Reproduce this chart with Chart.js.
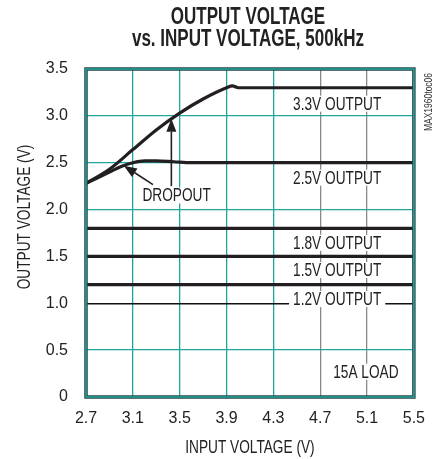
<!DOCTYPE html>
<html>
<head>
<meta charset="utf-8">
<script src="https://cdn.jsdelivr.net/npm/chart.js@4.4.1/dist/chart.umd.min.js"></script>
<style>
html,body{margin:0;padding:0;background:#fff;}
#c{display:block;}
</style>
</head>
<body>
<canvas id="c" width="437" height="459"></canvas>
<script>
// ---- data ----
const xTicks = [2.7, 3.1, 3.5, 3.9, 4.3, 4.7, 5.1, 5.5];
const yTicks = [0, 0.5, 1.0, 1.5, 2.0, 2.5, 3.0, 3.5];

const out33X = [2.7, 2.9, 3.1, 3.3, 3.5, 3.7, 3.9, 3.95, 4.0, 5.5];
const out33Y = [2.28, 2.43, 2.64, 2.85, 3.03, 3.18, 3.30, 3.32, 3.30, 3.30];

const out25X = [2.7, 2.9, 3.0, 3.1, 3.2, 3.3, 3.45, 3.6, 5.5];
const out25Y = [2.28, 2.40, 2.46, 2.50, 2.52, 2.52, 2.51, 2.50, 2.50];

const out18X = [2.7, 5.5];
const out18Y = [1.8, 1.8];
const out15X = [2.7, 5.5];
const out15Y = [1.5, 1.5];
const out12X = [2.7, 5.5];
const out12Y = [1.2, 1.2];

const seriesLabels = ['3.3V OUTPUT', '2.5V OUTPUT', '1.8V OUTPUT', '1.5V OUTPUT', '1.2V OUTPUT'];
const titleLines = ['OUTPUT VOLTAGE', 'vs. INPUT VOLTAGE, 500kHz'];
const xTitle = 'INPUT VOLTAGE (V)';
const yTitle = 'OUTPUT VOLTAGE (V)';
const sideCode = 'MAX1960toc06';

const FONT = "'Liberation Sans', Arial, sans-serif";
const TEAL = '#1fa79f';
const GRAY = '#8a8a8a';
const INK = '#231f20';

function pts(xs, ys) { return xs.map((x, i) => ({x: x, y: ys[i]})); }

function ds(label, xs, ys) {
  return {
    label: label,
    data: pts(xs, ys),
    borderColor: INK,
    borderWidth: 3.2,
    pointRadius: 0,
    fill: false,
    cubicInterpolationMode: 'monotone'
  };
}

// annotation texts placed in data coordinates
const notes = [
  {t: seriesLabels[0], x: 4.845, y: 3.13},
  {t: seriesLabels[1], x: 4.845, y: 2.34},
  {t: seriesLabels[2], x: 4.845, y: 1.645},
  {t: seriesLabels[3], x: 4.845, y: 1.355},
  {t: seriesLabels[4], x: 4.845, y: 1.045},
  {t: '15A LOAD', x: 5.09, y: 0.27},
  {t: 'DROPOUT', x: 3.474, y: 2.15}
];
const arrows = [
  {x0: 3.429, y0: 2.25, x1: 3.429, y1: 2.97},
  {x0: 3.272, y0: 2.266, x1: 3.023, y1: 2.468}
];

// condensed text helper (horizontal squeeze)
function condText(ctx, text, x, y, size, weight, sx, rot, bg) {
  ctx.save();
  ctx.translate(x, y);
  if (rot) ctx.rotate(rot);
  ctx.scale(sx, 1);
  ctx.font = (weight || 'normal') + ' ' + size + 'px ' + FONT;
  ctx.textAlign = 'center';
  ctx.textBaseline = 'middle';
  if (bg) {
    const w = ctx.measureText(text).width;
    ctx.fillStyle = '#fff';
    ctx.fillRect(-w / 2 - 4 / sx, -8, w + 8 / sx, 16);
  }
  ctx.fillStyle = '#222';
  ctx.fillText(text, 0, 1);
  ctx.restore();
}

const overlay = {
  id: 'overlay',
  afterDatasetsDraw(chart) {
    const ctx = chart.ctx;
    const xs = chart.scales.x, ys = chart.scales.y;
    const a = chart.chartArea;
    ctx.save();
    notes.forEach(n => {
      condText(ctx, n.t, xs.getPixelForValue(n.x), ys.getPixelForValue(n.y), 18, 'normal', 0.76, 0, true);
    });
    // arrows
    ctx.strokeStyle = INK;
    ctx.fillStyle = INK;
    ctx.lineWidth = 1.6;
    arrows.forEach(r => {
      const x0 = xs.getPixelForValue(r.x0), y0 = ys.getPixelForValue(r.y0);
      const x1 = xs.getPixelForValue(r.x1), y1 = ys.getPixelForValue(r.y1);
      const ang = Math.atan2(y1 - y0, x1 - x0);
      const L = 13, W = 5;
      const bx = x1 - L * Math.cos(ang), by = y1 - L * Math.sin(ang);
      ctx.beginPath();
      ctx.moveTo(x0, y0);
      ctx.lineTo(bx, by);
      ctx.stroke();
      ctx.beginPath();
      ctx.moveTo(x1, y1);
      ctx.lineTo(bx + W * Math.sin(ang), by - W * Math.cos(ang));
      ctx.lineTo(bx - W * Math.sin(ang), by + W * Math.cos(ang));
      ctx.closePath();
      ctx.fill();
    });
    // frame: dark outline with teal core
    ctx.lineWidth = 3.5;
    ctx.strokeStyle = '#2b4444';
    ctx.strokeRect(a.left, a.top, a.right - a.left, a.bottom - a.top);
    ctx.lineWidth = 1.5;
    ctx.strokeStyle = TEAL;
    ctx.strokeRect(a.left, a.top, a.right - a.left, a.bottom - a.top);
    ctx.restore();

    // titles
    const cx = (a.left + a.right) / 2;
    condText(ctx, titleLines[0], cx - 2, 17, 23, 'bold', 0.74, 0, false);
    condText(ctx, titleLines[1], cx - 2, 38.5, 23, 'bold', 0.74, 0, false);
    condText(ctx, xTitle, cx, 447, 18, 'normal', 0.76, 0, false);
    condText(ctx, yTitle, 24, 217, 18, 'normal', 0.76, -Math.PI / 2, false);
    ctx.save();
    ctx.translate(a.right + 15, a.top + 33);
    ctx.rotate(-Math.PI / 2);
    ctx.scale(0.85, 1);
    ctx.font = '10px ' + FONT;
    ctx.fillStyle = '#333';
    ctx.textAlign = 'center';
    ctx.textBaseline = 'middle';
    ctx.fillText(sideCode, 0, 0);
    ctx.restore();
  }
};

new Chart(document.getElementById('c'), {
  type: 'line',
  data: {
    datasets: [
      ds(seriesLabels[0], out33X, out33Y),
      ds(seriesLabels[1], out25X, out25Y),
      ds(seriesLabels[2], out18X, out18Y),
      ds(seriesLabels[3], out15X, out15Y),
      ds(seriesLabels[4], out12X, out12Y)
    ]
  },
  options: {
    responsive: false,
    devicePixelRatio: 1,
    animation: false,
    layout: {padding: {left: 8, right: 22, top: 69, bottom: 4}},
    plugins: {
      legend: {display: false},
      tooltip: {enabled: false},
      title: {display: false}
    },
    scales: {
      x: {
        type: 'linear',
        min: 2.7,
        max: 5.5,
        afterBuildTicks: s => { s.ticks = xTicks.map(v => ({value: v})); },
        afterFit: s => { s.height = 58; },
        ticks: {
          color: '#222',
          font: {family: FONT, size: 16},
          padding: 12,
          maxRotation: 0,
          callback: v => v.toFixed(1)
        },
        grid: {
          drawTicks: false,
          lineWidth: 1.3,
          color: c => (c.tick && c.tick.value > 4.5) ? GRAY : TEAL
        },
        border: {display: false}
      },
      y: {
        type: 'linear',
        min: 0,
        max: 3.5,
        afterBuildTicks: s => { s.ticks = yTicks.map(v => ({value: v})); },
        afterFit: s => { s.width = 78; },
        ticks: {
          color: '#222',
          font: {family: FONT, size: 16},
          padding: 18,
          callback: v => v === 0 ? '0' : v.toFixed(1)
        },
        grid: {
          drawTicks: false,
          lineWidth: c => (c.tick && Math.abs(c.tick.value - 1.0) < 1e-6) ? 1.5 : 1.3,
          color: c => (c.tick && Math.abs(c.tick.value - 1.0) < 1e-6) ? '#111' : TEAL
        },
        border: {display: false}
      }
    }
  },
  plugins: [overlay]
});
</script>
</body>
</html>
